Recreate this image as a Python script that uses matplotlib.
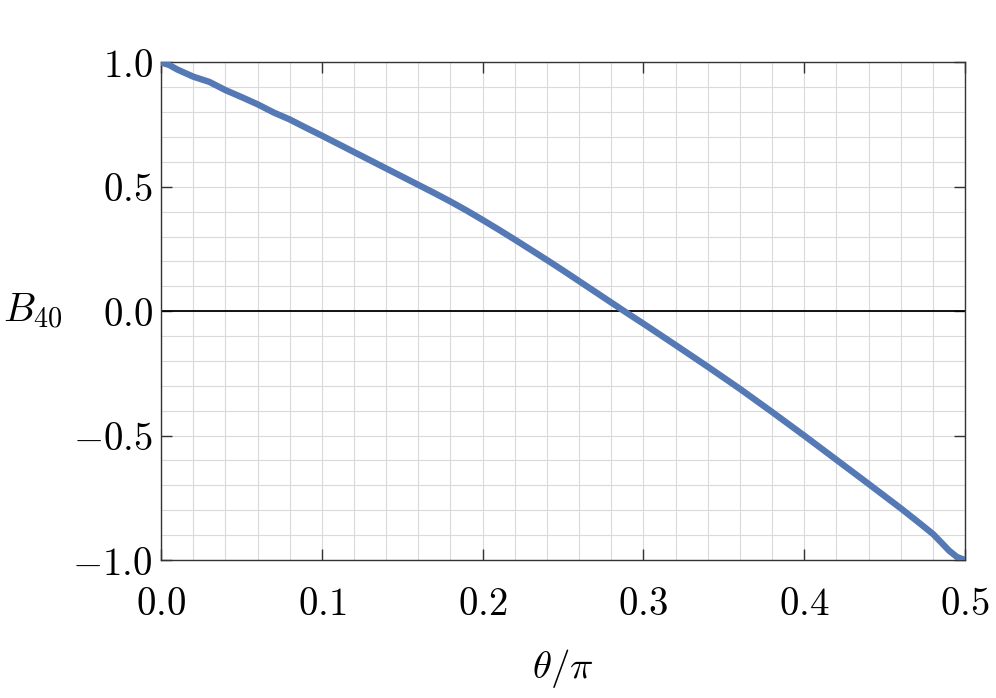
import numpy as np
import matplotlib
matplotlib.use('Agg')
import matplotlib.pyplot as plt
from matplotlib.ticker import MultipleLocator, FuncFormatter

plt.rcParams['mathtext.fontset'] = 'cm'
plt.rcParams['font.family'] = 'serif'

# theta/pi and B40 values
theta = [0.0, 0.005, 0.01, 0.02, 0.03, 0.04, 0.05, 0.06, 0.07, 0.08, 0.09,
         0.10, 0.11, 0.12, 0.13, 0.14, 0.15, 0.16, 0.17, 0.18, 0.19, 0.20,
         0.21, 0.22, 0.23, 0.24, 0.25, 0.26, 0.27, 0.28, 0.29, 0.30,
         0.32, 0.34, 0.36, 0.38, 0.40, 0.42, 0.44, 0.46, 0.47, 0.48,
         0.485, 0.49, 0.495, 0.5]
b40 = [1.0, 0.99, 0.972, 0.943, 0.922, 0.889, 0.861, 0.832, 0.799, 0.771, 0.738,
       0.706, 0.673, 0.64, 0.607, 0.574, 0.541, 0.508, 0.475, 0.441, 0.405, 0.367,
       0.328, 0.288, 0.247, 0.206, 0.164, 0.121, 0.078, 0.035, -0.008, -0.05,
       -0.136, -0.223, -0.312, -0.405, -0.5, -0.597, -0.694, -0.792, -0.843, -0.895,
       -0.928, -0.962, -0.988, -1.0]

fig = plt.figure(figsize=(9.96, 6.98), dpi=100)
ax = fig.add_axes([0.1617, 0.1977, 0.8072, 0.7128])

ax.plot(theta, b40, color='#5579b5', lw=4.6, solid_capstyle='round',
        solid_joinstyle='round', zorder=3)
ax.axhline(0, color='black', lw=1.3, zorder=2)

ax.set_xlim(0, 0.5)
ax.set_ylim(-1, 1)
ax.xaxis.set_major_locator(MultipleLocator(0.1))
ax.xaxis.set_minor_locator(MultipleLocator(0.02))
ax.yaxis.set_major_locator(MultipleLocator(0.5))
ax.yaxis.set_minor_locator(MultipleLocator(0.1))
fmt = FuncFormatter(lambda v, p: r'$%.1f$' % v if abs(v) > 1e-9 else r'$0.0$')
ax.xaxis.set_major_formatter(fmt)
ax.yaxis.set_major_formatter(fmt)

ax.grid(which='both', color='#dadada', lw=0.8, zorder=0)
ax.tick_params(which='major', direction='in', length=8, width=1, color='#333333',
               top=True, right=True, labelsize=28)
ax.tick_params(axis='x', which='major', pad=19)
ax.tick_params(axis='y', which='major', pad=6)
ax.tick_params(which='minor', length=0)
for s in ax.spines.values():
    s.set_color('#333333')
    s.set_linewidth(1)

ax.set_xlabel(r'$\theta/\pi$', fontsize=28, labelpad=17)
ax.set_ylabel(r'$B_{40}$', fontsize=29, rotation=0, va='center', ha='center')
ax.yaxis.set_label_coords(-0.159, 0.5)

fig.savefig('out.png', dpi=100)
